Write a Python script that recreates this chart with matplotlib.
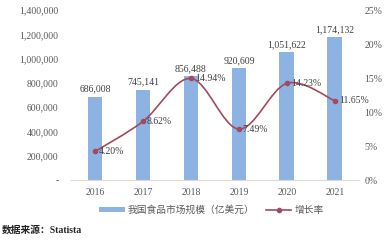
import numpy as np
import matplotlib.pyplot as plt
from matplotlib.path import Path
from matplotlib.patches import PathPatch
from matplotlib.lines import Line2D
from matplotlib.patches import Patch
from matplotlib.ticker import FuncFormatter

plt.rcParams['font.family'] = ['Liberation Serif', 'Noto Sans CJK SC']

# 数据
years = ['2016', '2017', '2018', '2019', '2020', '2021']
market = [686008, 745141, 856488, 920609, 1051622, 1174132]
growth = [4.20, 8.62, 14.94, 7.49, 14.23, 11.65]

bar_color = '#8DB3E2'
line_color = '#A34A5E'
text_color = '#595959'

fig = plt.figure(figsize=(3.88, 2.40), dpi=100)
ax = fig.add_axes([0.183, 0.25, 0.742, 0.708])
x = np.arange(len(years))
ax.bar(x, market, width=0.31, color=bar_color, zorder=2)
for xi, v in zip(x, market):
    ax.text(xi, v + 25000, f'{v:,}', ha='center', va='bottom', fontsize=7, color='#404040')

ax.set_xlim(-0.5, 5.5)
ax.set_ylim(0, 1400000)
ax.set_yticks(range(0, 1400001, 200000))
ax.yaxis.set_major_formatter(FuncFormatter(lambda v, p: '-' if v == 0 else f'{int(v):,}'))
ax.set_xticks(x)
ax.set_xticklabels(years)
for s in ['top', 'left', 'right']:
    ax.spines[s].set_visible(False)
ax.spines['bottom'].set_color('#d9d9d9')
ax.tick_params(length=0, labelsize=7, colors=text_color, pad=6)
ax.tick_params(axis='y', pad=9)

# 增长率（平滑曲线）
ax2 = ax.twinx()
ax2.set_ylim(0, 25)
ax2.set_yticks(range(0, 26, 5))
ax2.yaxis.set_major_formatter(FuncFormatter(lambda v, p: f'{int(v)}%'))
for s in ['top', 'left', 'right', 'bottom']:
    ax2.spines[s].set_visible(False)
ax2.tick_params(length=0, labelsize=7, colors=text_color, pad=4)

pts = np.column_stack([x, growth]).astype(float)
verts = [tuple(pts[0])]
codes = [Path.MOVETO]
n = len(pts)
for i in range(n - 1):
    p0 = pts[i - 1] if i > 0 else pts[i]
    p1, p2 = pts[i], pts[i + 1]
    p3 = pts[i + 2] if i + 2 < n else pts[i + 1]
    c1 = p1 + (p2 - p0) / 6
    c2 = p2 - (p3 - p1) / 6
    verts += [tuple(c1), tuple(c2), tuple(p2)]
    codes += [Path.CURVE4] * 3
ax2.add_patch(PathPatch(Path(verts, codes), fill=False, edgecolor=line_color, lw=1.2, zorder=3))
ax2.plot(x, growth, 'o', color=line_color, markersize=3, zorder=4)
for xi, g in zip(x, growth):
    ax2.text(xi + 0.08, g, f'{g:.2f}%', ha='left', va='center', fontsize=7, color='#404040', zorder=5)

handles = [Patch(facecolor=bar_color, edgecolor='none'),
           Line2D([0], [0], color=line_color, lw=1.2, marker='o', markersize=3)]
fig.legend(handles, ['我国食品市场规模（亿美元）', '增长率'], loc='center', bbox_to_anchor=(0.545, 0.125),
           ncol=2, frameon=False, fontsize=7, labelcolor=text_color, handlelength=2.6,
           handleheight=0.5, columnspacing=1.2, handletextpad=0.3)

fig.text(0.005, 0.03, '数据来源：Statista', fontsize=7, color='#222222', fontweight='bold')

fig.savefig('out.png', dpi=100)
